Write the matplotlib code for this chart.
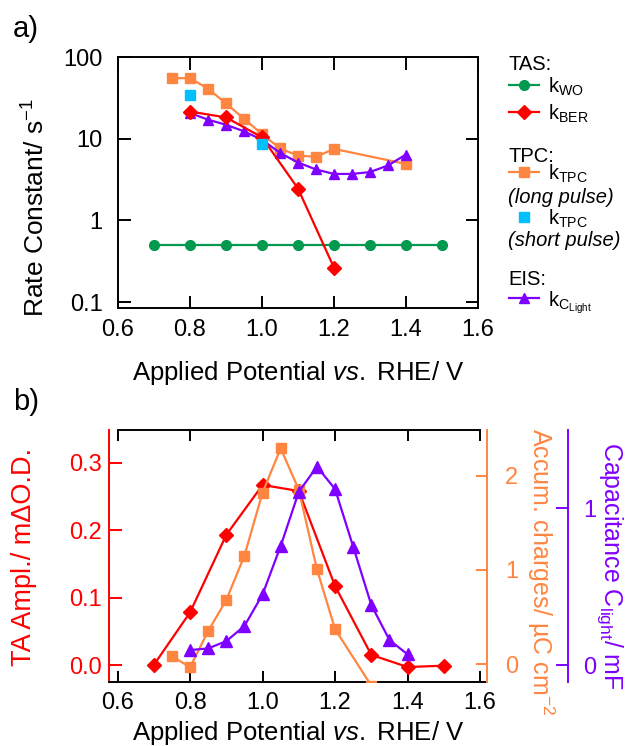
import matplotlib
matplotlib.use("Agg")
import matplotlib.pyplot as plt
from matplotlib.lines import Line2D
from matplotlib.ticker import FixedLocator, FixedFormatter, NullLocator

plt.rcParams['font.family'] = ['Liberation Sans', 'DejaVu Sans']
plt.rcParams['mathtext.fontset'] = 'custom'
plt.rcParams['mathtext.rm'] = 'Liberation Sans'
plt.rcParams['mathtext.it'] = 'Liberation Sans:italic'
plt.rcParams['mathtext.bf'] = 'Liberation Sans:bold'

# ---------------- data: panel a ----------------
x_wo = [0.7, 0.8, 0.9, 1.0, 1.1, 1.2, 1.3, 1.4, 1.5]
k_wo = [0.5, 0.5, 0.5, 0.5, 0.5, 0.5, 0.5, 0.5, 0.5]
x_ber = [0.8, 0.9, 1.0, 1.1, 1.2]
k_ber = [21.5, 18.2, 10.4, 2.45, 0.263]
x_tpc_long = [0.75, 0.8, 0.85, 0.9, 0.95, 1.0, 1.05, 1.1, 1.15, 1.2, 1.4]
k_tpc_long = [55, 55, 41, 27, 17.5, 11.4, 7.6, 6.2, 6.0, 7.5, 4.9]
x_tpc_short = [0.8, 1.0]
k_tpc_short = [34.4, 8.7]
x_eis = [0.8, 0.85, 0.9, 0.95, 1.0, 1.05, 1.1, 1.15, 1.2, 1.25, 1.3, 1.35, 1.4]
k_eis = [20.6, 17.1, 14.8, 12.3, 9.7, 6.7, 5.1, 4.2, 3.7, 3.7, 3.9, 4.7, 6.4]

# ---------------- data: panel b ----------------
x_ta = [0.7, 0.8, 0.9, 1.0, 1.1, 1.2, 1.3, 1.4, 1.5]
ta_ampl = [0.0, 0.078, 0.193, 0.267, 0.258, 0.117, 0.015, -0.003, -0.001]
x_charge = [0.75, 0.8, 0.85, 0.9, 0.95, 1.0, 1.05, 1.1, 1.15, 1.2, 1.3]
charge = [0.085, -0.035, 0.35, 0.68, 1.15, 1.82, 2.29, 1.85, 1.005, 0.37, -0.23]
x_cap = [0.8, 0.85, 0.9, 0.95, 1.0, 1.05, 1.1, 1.15, 1.2, 1.25, 1.3, 1.35, 1.4]
cap = [0.096, 0.106, 0.153, 0.249, 0.451, 0.76, 1.106, 1.266, 1.123, 0.755, 0.383, 0.16, 0.068]

# ---------------- ticks ----------------
xticks = [0.6, 0.8, 1.0, 1.2, 1.4, 1.6]
xticklabels = ["0.6", "0.8", "1.0", "1.2", "1.4", "1.6"]
a_yticks = [0.1, 1, 10, 100]
a_yticklabels = ["0.1", "1", "10", "100"]
ta_ticks = [0.0, 0.1, 0.2, 0.3]
ta_ticklabels = ["0.0", "0.1", "0.2", "0.3"]
charge_ticks = [0, 1, 2]
cap_ticks = [0, 1]

GREEN = '#00994D'
RED = '#FF0000'
ORANGE = '#FF8540'
CYAN = '#00BFFF'
PURPLE = '#8000FF'

W, H = 627, 746
fig = plt.figure(figsize=(W / 100, H / 100), dpi=100)


def px_rect(l, t, r, b):
    return [l / W, 1 - b / H, (r - l) / W, (b - t) / H]


def fx(x):
    return x / W


def fy(y):
    return 1 - y / H


TFS = 17     # tick labels
LW = 1.6

# ================= panel a =================
ax = fig.add_axes(px_rect(118, 57, 478, 308))
ax.plot(x_wo, k_wo, color=GREEN, marker='o', ms=7, lw=LW, zorder=2)
ax.plot(x_tpc_long, k_tpc_long, color=ORANGE, marker='s', ms=6.5, lw=LW, zorder=3)
ax.plot(x_eis, k_eis, color=PURPLE, marker='^', ms=7.5, lw=LW, zorder=3.5)
ax.plot(x_ber, k_ber, color=RED, marker='D', ms=7, lw=LW, zorder=4)
ax.plot(x_tpc_short, k_tpc_short, color=CYAN, marker='s', ms=6.5, lw=0, zorder=5)
ax.set_yscale('log')
ax.set_xlim(0.6, 1.6)
ax.set_ylim(0.0845, 100)
ax.xaxis.set_major_locator(FixedLocator(xticks))
ax.xaxis.set_major_formatter(FixedFormatter(xticklabels))
ax.yaxis.set_major_locator(FixedLocator(a_yticks))
ax.yaxis.set_major_formatter(FixedFormatter(a_yticklabels))
ax.yaxis.set_minor_locator(NullLocator())
ax.tick_params(axis='both', which='major', direction='in', length=9, width=1.4,
               top=True, right=True, labelsize=TFS)
ax.tick_params(axis='x', pad=8)
ax.tick_params(axis='y', pad=11)
for s in ax.spines.values():
    s.set_linewidth(1.4)

fig.text(fx(26), fy(29), "a)", fontsize=21, ha='center', va='center')
fig.text(fx(36), fy(208), "Rate Constant/ s$^{-1}$", fontsize=19, rotation=90,
         ha='center', va='center')
fig.text(fx(298), fy(380), r"Applied Potential $\mathit{vs.}$ RHE/ V", fontsize=18.5,
         ha='center', va='baseline')

# legend for panel a (drawn manually)
LFS = 14.5
hx0, hx1, hm = 509, 539, 524
tx = 548


def handle(y, color, marker, ms, line=True):
    if line:
        fig.add_artist(Line2D([fx(hx0), fx(hx1)], [fy(y), fy(y)], color=color, lw=LW,
                              transform=fig.transFigure))
    fig.add_artist(Line2D([fx(hm)], [fy(y)], color=color, marker=marker, ms=ms, lw=0,
                          transform=fig.transFigure))


fig.text(fx(508), fy(70), "TAS:", fontsize=LFS, va='baseline')
handle(85, GREEN, 'o', 7)
fig.text(fx(tx), fy(93), r"k$_{\mathrm{WO}}$", fontsize=LFS, va='baseline')
handle(112, RED, 'D', 7)
fig.text(fx(tx), fy(120), r"k$_{\mathrm{BER}}$", fontsize=LFS, va='baseline')
fig.text(fx(508), fy(162), "TPC:", fontsize=LFS, va='baseline')
handle(172, ORANGE, 's', 6.5)
fig.text(fx(tx), fy(180), r"k$_{\mathrm{TPC}}$", fontsize=LFS, va='baseline')
fig.text(fx(508), fy(203), "(long pulse)", fontsize=LFS, va='baseline', style='italic')
handle(217, CYAN, 's', 6.5, line=False)
fig.text(fx(tx), fy(225), r"k$_{\mathrm{TPC}}$", fontsize=LFS, va='baseline')
fig.text(fx(508), fy(246), "(short pulse)", fontsize=LFS, va='baseline', style='italic')
fig.text(fx(508), fy(285), "EIS:", fontsize=LFS, va='baseline')
handle(298, PURPLE, '^', 7.5)
fig.text(fx(tx), fy(306), r"k$_{\mathrm{C_{Light}}}$", fontsize=LFS, va='baseline')

# ================= panel b =================
axb = fig.add_axes(px_rect(109, 430, 487, 682))
axb.plot(x_ta, ta_ampl, color=RED, marker='D', ms=7.5, lw=LW, clip_on=True)
axb.set_xlim(0.5765, 1.619)
axb.set_ylim(-0.0252, 0.3485)
axb.xaxis.set_major_locator(FixedLocator(xticks))
axb.xaxis.set_major_formatter(FixedFormatter(xticklabels))
axb.yaxis.set_major_locator(FixedLocator(ta_ticks))
axb.yaxis.set_major_formatter(FixedFormatter(ta_ticklabels))
axb.tick_params(axis='x', direction='in', length=8, width=1.4, top=True, labelsize=TFS, pad=7)
axb.tick_params(axis='y', direction='in', length=9, width=1.4, colors=RED, labelsize=TFS, pad=5)
axb.spines['left'].set_color(RED)
axb.spines['left'].set_linewidth(1.4)
axb.spines['right'].set_visible(False)
axb.spines['top'].set_bounds(0.6, 1.6)
axb.spines['top'].set_linewidth(1.4)
axb.spines['bottom'].set_linewidth(1.4)

ax2 = axb.twinx()
ax2.plot(x_charge, charge, color=ORANGE, marker='s', ms=7, lw=LW)
ax2.set_ylim(-0.191, 2.485)
ax2.yaxis.set_major_locator(FixedLocator(charge_ticks))
ax2.tick_params(axis='y', direction='in', length=8, width=1.4, colors=ORANGE, labelsize=TFS, pad=13)
for k in ['left', 'top', 'bottom']:
    ax2.spines[k].set_visible(False)
ax2.spines['right'].set_color(ORANGE)
ax2.spines['right'].set_linewidth(1.4)

ax3 = axb.twinx()
ax3.plot(x_cap, cap, color=PURPLE, marker='^', ms=8, lw=LW)
ax3.set_ylim(-0.108, 1.5)
ax3.yaxis.set_major_locator(FixedLocator(cap_ticks))
ax3.spines['right'].set_position(('axes', (568 - 109) / 378))
ax3.tick_params(axis='y', direction='in', length=9, width=1.4, colors=PURPLE, labelsize=TFS, pad=11)
for k in ['left', 'top', 'bottom']:
    ax3.spines[k].set_visible(False)
ax3.spines['right'].set_color(PURPLE)
ax3.spines['right'].set_linewidth(1.4)

fig.text(fx(26), fy(402), "b)", fontsize=21, ha='center', va='center')
fig.text(fx(24), fy(557), "TA Ampl./ m\u0394O.D.", fontsize=19.5, rotation=90,
         ha='center', va='center', color=RED)
fig.text(fx(541), fy(572), "Accum. charges/ \u00b5C cm$^{-2}$", fontsize=18, rotation=270,
         ha='center', va='center', color=ORANGE)
fig.text(fx(610), fy(566), r"Capacitance C$_{\mathrm{light}}$/ mF", fontsize=18, rotation=270,
         ha='center', va='center', color=PURPLE)
fig.text(fx(298), fy(740), r"Applied Potential $\mathit{vs.}$ RHE/ V", fontsize=18.5,
         ha='center', va='baseline')

fig.savefig("out.png", dpi=100)
